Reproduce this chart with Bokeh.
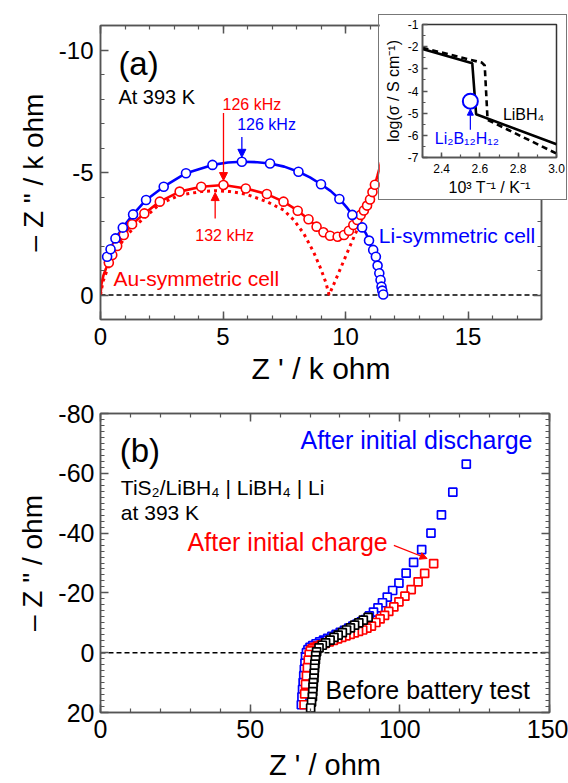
from bokeh.plotting import figure
from bokeh.models import (Range1d, LinearAxis, SingleIntervalTicker, CustomJSTickFormatter,
                          Arrow, NormalHead, Label, GridBox)
from bokeh.embed import file_html
from bokeh.resources import INLINE

FONT = "Liberation Sans"
RED = "#ff0000"
BLUE = "#0000ff"
FRAME = "#555555"

# ---------------- (a) Nyquist plots of symmetric cells at 393 K (k ohm) ----------------
# Li-symmetric cell: measured points
li_x = [0.27, 0.41, 0.61, 0.91, 1.33, 1.86, 2.58, 3.49, 4.57, 5.77, 6.92, 8.08, 9.00, 9.75,
        10.28, 10.68, 10.96, 11.13, 11.24, 11.31, 11.38, 11.43, 11.47, 11.50, 11.54]
li_y = [-1.56, -1.87, -2.31, -2.75, -3.29, -3.88, -4.42, -4.97, -5.31, -5.44, -5.37, -5.03, -4.52, -3.92,
        -3.27, -2.76, -2.22, -1.84, -1.56, -1.20, -0.89, -0.61, -0.34, -0.18, -0.02]
# Li-symmetric cell: fitted arc
li_fit_x = [0.18, 0.27, 0.41, 0.61, 0.91, 1.33, 1.86, 2.58, 3.49, 4.57, 5.2, 5.77, 6.4, 6.92, 7.5, 8.08,
            8.55, 9.0, 9.4, 9.75, 10.05, 10.28, 10.5, 10.68, 10.84, 10.96, 11.13, 11.24, 11.31, 11.38,
            11.43, 11.47, 11.5, 11.54]
li_fit_y = [-1.3, -1.56, -1.87, -2.31, -2.75, -3.29, -3.88, -4.42, -4.97, -5.31, -5.41, -5.44, -5.42, -5.37,
            -5.24, -5.03, -4.8, -4.52, -4.24, -3.92, -3.58, -3.27, -3.0, -2.76, -2.5, -2.22, -1.84, -1.56,
            -1.2, -0.89, -0.61, -0.34, -0.18, -0.02]

# Au-symmetric cell: measured points
au_x = [0.34, 0.48, 0.68, 0.95, 1.29, 1.79, 2.42, 3.23, 4.11, 5.02, 5.93, 6.79, 7.47, 8.05, 8.49, 8.82,
        9.10, 9.37, 9.68, 9.94, 10.14, 10.32, 10.48, 10.62, 10.75, 10.88, 11.0, 11.1, 11.2]
au_y = [-1.32, -1.63, -2.00, -2.45, -2.89, -3.33, -3.81, -4.22, -4.42, -4.49, -4.35, -4.12, -3.81, -3.44,
        -3.09, -2.79, -2.56, -2.42, -2.38, -2.45, -2.62, -2.86, -3.06, -3.27, -3.45, -3.65, -3.90, -4.20, -4.50]
# Au-symmetric cell: fitted curve
au_fit_x = [0.0, 0.04, 0.12, 0.22, 0.34, 0.48, 0.68, 0.95, 1.29, 1.79, 2.42, 3.23, 4.11, 5.02, 5.93, 6.79,
            7.47, 8.05, 8.49, 8.82, 9.10, 9.37, 9.68, 9.94, 10.14, 10.32, 10.48, 10.62, 10.75, 10.88, 11.0,
            11.1, 11.2, 11.3, 11.45, 11.6]
au_fit_y = [0.0, -0.45, -0.8, -1.07, -1.32, -1.63, -2.0, -2.45, -2.89, -3.33, -3.81, -4.22, -4.42, -4.49,
            -4.35, -4.12, -3.81, -3.44, -3.09, -2.79, -2.56, -2.42, -2.38, -2.45, -2.62, -2.86, -3.06, -3.27,
            -3.45, -3.65, -3.9, -4.2, -4.5, -4.85, -5.4, -6.0]
# Au-symmetric cell: separated bulk and interface contributions (dotted)
au_sep_x = [0.0, 0.1, 0.3, 0.6, 1.0, 1.5, 1.9, 2.42, 3.23, 4.11, 4.68, 5.3, 5.93, 6.79, 7.47, 7.9, 8.3,
            8.7, 9.0, 9.2, 9.33, 9.6, 9.9, 10.2, 10.5, 10.75]
au_sep_y = [0.0, -0.55, -1.1, -1.75, -2.35, -2.9, -3.25, -3.71, -4.08, -4.22, -4.26, -4.22, -4.12, -3.81,
            -3.47, -3.05, -2.5, -1.75, -1.05, -0.5, 0.0, -0.62, -1.33, -2.03, -2.73, -3.3]

# ---------------- inset: conductivity vs inverse temperature ----------------
libh4_heat_x = [2.30, 2.56, 2.58, 3.00]
libh4_heat_y = [-2.10, -2.75, -5.05, -6.40]
libh4_cool_x = [2.30, 2.61, 2.625, 2.64, 3.00]
libh4_cool_y = [-2.05, -2.72, -2.85, -5.30, -6.82]
lbh_x = [2.55]
lbh_y = [-4.46]

# ---------------- (b) TiS2/LiBH4 | LiBH4 | Li cell (ohm) ----------------
dis_x = [122.2, 117.7, 113.9, 110.4, 107.3, 104.6, 102.1, 99.7, 97.6, 95.8, 94.2, 92.7, 91.2, 89.8, 88.5,
         87.1, 85.7, 84.3, 82.9, 81.5, 80.1, 78.7, 77.3, 75.9, 74.5, 73.2, 72.0, 70.9, 70.0, 69.3, 68.8,
         68.5, 68.3, 68.1, 67.9, 67.7, 67.5, 67.3, 67.1]
dis_y = [-63.1, -53.7, -46.1, -40.0, -34.5, -30.2, -26.6, -23.3, -20.8, -18.6, -16.7, -15.0, -13.6, -12.3,
         -11.1, -10.3, -9.6, -8.9, -8.2, -7.5, -6.8, -6.1, -5.5, -4.8, -4.2, -3.6, -3.0, -2.4, -1.8, -1.0,
         0.0, 1.5, 3.5, 5.5, 7.7, 10.0, 12.3, 14.8, 17.4]
chg_x = [111.3, 108.3, 106.1, 103.8, 101.7, 99.7, 98.0, 96.3, 94.9, 93.4, 92.0, 90.5, 89.0, 87.6, 86.2,
         84.8, 83.4, 82.0, 80.6, 79.2, 77.8, 76.4, 75.0, 73.7, 72.5, 71.5, 70.7, 70.1, 69.7, 69.4, 69.1,
         68.8, 68.5, 68.2, 68.0]
chg_y = [-29.8, -26.5, -23.7, -21.1, -18.9, -17.0, -15.3, -13.8, -12.5, -11.3, -10.1, -8.9, -8.2, -7.6,
         -7.1, -6.6, -6.1, -5.6, -5.1, -4.6, -4.1, -3.6, -3.1, -2.65, -2.2, -1.8, -1.3, -0.6, 0.6, 2.5,
         5.0, 7.8, 10.6, 13.8, 17.4]
pre_x = [89.4, 87.8, 86.3, 84.9, 83.5, 82.2, 80.8, 79.4, 78.0, 76.7, 75.2, 74.1, 73.0, 72.2, 71.9, 71.8,
         71.6, 71.5, 71.4, 71.3, 71.1, 71.0, 70.9, 70.8, 70.5, 70.2]
pre_y = [-11.8, -10.9, -10.0, -9.2, -8.3, -7.6, -6.7, -5.9, -5.1, -4.2, -3.3, -2.5, -1.6, -0.3, 1.0, 2.4,
         3.8, 5.2, 6.8, 8.5, 10.0, 11.5, 13.0, 14.7, 16.5, 18.5]


def fmt(digits):
    # plain hyphen-minus tick labels with a fixed number of decimals
    return CustomJSTickFormatter(code=f"return tick.toFixed({digits});")


def dress(p, xt, yt, tick_px, xlabel_px, ylabel_px, x_std, y_std, xl_std, yl_std,
          xdig=0, ydig=0, tick_len=8, minor_len=4, mirror=True):
    p.grid.visible = False
    p.outline_line_color = FRAME
    p.outline_line_width = 1.5
    p.background_fill_color = "white"
    p.border_fill_color = "white"
    common = dict(axis_line_color=FRAME, axis_line_width=1.5,
                  major_tick_line_color=FRAME, minor_tick_line_color=FRAME,
                  major_tick_line_width=1.5, minor_tick_line_width=1.2,
                  major_tick_in=tick_len, major_tick_out=0, minor_tick_in=minor_len, minor_tick_out=0)
    text = dict(major_label_text_font=FONT, major_label_text_font_size=f"{tick_px}px",
                major_label_text_color="black", axis_label_text_font=FONT,
                axis_label_text_font_style="normal", axis_label_text_color="black")
    p.xaxis[0].update(ticker=xt, formatter=fmt(xdig), major_label_standoff=x_std, axis_label_standoff=xl_std,
                      axis_label_text_font_size=f"{xlabel_px}px", **common, **text)
    p.yaxis[0].update(ticker=yt, formatter=fmt(ydig), major_label_standoff=y_std, axis_label_standoff=yl_std,
                      axis_label_text_font_size=f"{ylabel_px}px", **common, **text)
    if mirror:
        blank = CustomJSTickFormatter(code="return ''")
        for loc, tk in (("above", xt), ("right", yt)):
            ax = LinearAxis(ticker=tk, formatter=blank, major_label_text_font_size="0px",
                            major_label_standoff=0, **common)
            p.add_layout(ax, loc)


def label(p, x, y, text, size, color="black", align="left"):
    p.add_layout(Label(x=x, y=y, text=text, text_font=FONT, text_font_size=f"{size}px",
                       text_color=color, text_align=align, text_baseline="middle"))


def arrow(p, x0, y0, x1, y1, color, head=8, width=1.3):
    p.add_layout(Arrow(x_start=x0, y_start=y0, x_end=x1, y_end=y1, line_color=color, line_width=width,
                       end=NormalHead(size=head, fill_color=color, line_color=color, line_width=1)))


# ---------------- panel (a) ----------------
pa = figure(frame_width=441, frame_height=294, x_range=Range1d(0, 18), y_range=Range1d(1, -11),
            min_border_left=100, min_border_right=27, min_border_top=25, min_border_bottom=71,
            x_axis_label="Z ' / k ohm", y_axis_label='– Z " / k ohm',
            output_backend="svg", toolbar_location=None)
dress(pa, SingleIntervalTicker(interval=5, num_minor_ticks=5), SingleIntervalTicker(interval=5, num_minor_ticks=5),
      tick_px=24, xlabel_px=30, ylabel_px=28, x_std=8, y_std=7, xl_std=4, yl_std=7)

pa.line([0, 18], [0, 0], line_color="black", line_width=1.5, line_dash="5 3")
pa.line(au_sep_x, au_sep_y, line_color=RED, line_width=3, line_dash="3 4")
pa.line(au_fit_x, au_fit_y, line_color=RED, line_width=2.6)
pa.line(li_fit_x, li_fit_y, line_color=BLUE, line_width=2.6)
pa.scatter(au_x, au_y, marker="circle", size=9, fill_color="white", line_color=RED, line_width=1.6)
pa.scatter(li_x, li_y, marker="circle", size=9, fill_color="white", line_color=BLUE, line_width=1.6)

arrow(pa, 5.02, -7.43, 5.02, -4.67, RED)
arrow(pa, 5.77, -6.45, 5.77, -5.62, BLUE)
arrow(pa, 4.68, -3.12, 4.68, -4.18, RED)

label(pa, 0.73, -9.45, "(a)", 33)
label(pa, 0.73, -8.08, "At 393 K", 20)
label(pa, 4.98, -7.76, "126 kHz", 16, RED)
label(pa, 5.58, -6.94, "126 kHz", 16, BLUE)
label(pa, 3.87, -2.41, "132 kHz", 16, RED)
label(pa, 0.53, -0.69, "Au-symmetric cell", 21, RED)
label(pa, 11.36, -2.41, "Li-symmetric cell", 21, BLUE)

# ---------------- inset ----------------
ins = figure(frame_width=132, frame_height=131, x_range=Range1d(2.3, 3.0), y_range=Range1d(-7, -1),
             min_border_left=43, min_border_right=12, min_border_top=9, min_border_bottom=44,
             x_axis_label="10³ T⁻¹ / K⁻¹", y_axis_label="log(σ / S cm⁻¹)",
             output_backend="svg", toolbar_location=None)
dress(ins, SingleIntervalTicker(interval=0.2, num_minor_ticks=2), SingleIntervalTicker(interval=1, num_minor_ticks=2),
      tick_px=12, xlabel_px=16, ylabel_px=16, x_std=6, y_std=4, xl_std=3, yl_std=3,
      xdig=1, ydig=0, tick_len=5, minor_len=3, mirror=False)
ins.outline_line_color = "#333333"
ins.styles = {"border": "1.5px solid #777777"}

ins.line(libh4_cool_x, libh4_cool_y, line_color="black", line_width=2.6, line_dash="6 4")
ins.line(libh4_heat_x, libh4_heat_y, line_color="black", line_width=2.6)
ins.scatter(lbh_x, lbh_y, marker="circle", size=15, fill_color="white", line_color=BLUE, line_width=2)
arrow(ins, 2.55, -5.75, 2.55, -4.82, BLUE, head=6, width=1.2)
label(ins, 2.72, -5.06, "LiBH₄", 16)
label(ins, 2.364, -6.16, "Li₂B₁₂H₁₂", 16, BLUE)

# ---------------- panel (b) ----------------
pb = figure(frame_width=449, frame_height=299, x_range=Range1d(0, 150), y_range=Range1d(20, -80),
            min_border_left=98, min_border_right=21, min_border_top=23, min_border_bottom=71,
            x_axis_label="Z ' / ohm", y_axis_label='– Z " / ohm',
            output_backend="svg", toolbar_location=None)
dress(pb, SingleIntervalTicker(interval=50, num_minor_ticks=5), SingleIntervalTicker(interval=20, num_minor_ticks=10),
      tick_px=25, xlabel_px=29, ylabel_px=28, x_std=7, y_std=6, xl_std=8, yl_std=7)

pb.line([0, 150], [0, 0], line_color="black", line_width=1.5, line_dash="5 3")
pb.scatter(dis_x, dis_y, marker="square", size=8, fill_color="white", line_color=BLUE, line_width=1.7)
pb.scatter(chg_x, chg_y, marker="square", size=8, fill_color="white", line_color=RED, line_width=1.7)
pb.scatter(pre_x, pre_y, marker="square", size=8, fill_color="white", line_color="black", line_width=1.7)

arrow(pb, 98.0, -35.9, 109.1, -31.5, RED, head=7, width=1.2)

label(pb, 6.4, -67.6, "(b)", 33)
label(pb, 6.8, -55.3, "TiS₂/LiBH₄ | LiBH₄ | Li", 21)
label(pb, 6.8, -47.0, "at 393 K", 21)
label(pb, 66.8, -71.1, "After initial discharge", 25, BLUE)
label(pb, 29.1, -37.0, "After initial charge", 25, RED)
label(pb, 75.2, 12.4, "Before battery test", 25)

layout = GridBox(children=[(pa, 0, 0, 3, 2), (ins, 1, 1, 1, 1), (pb, 3, 0, 1, 2)],
                 rows=["14px", "187px", "189px", "393px"], cols=["378px", "190px"], spacing=0)

open("out.html", "w").write(file_html(layout, INLINE))
